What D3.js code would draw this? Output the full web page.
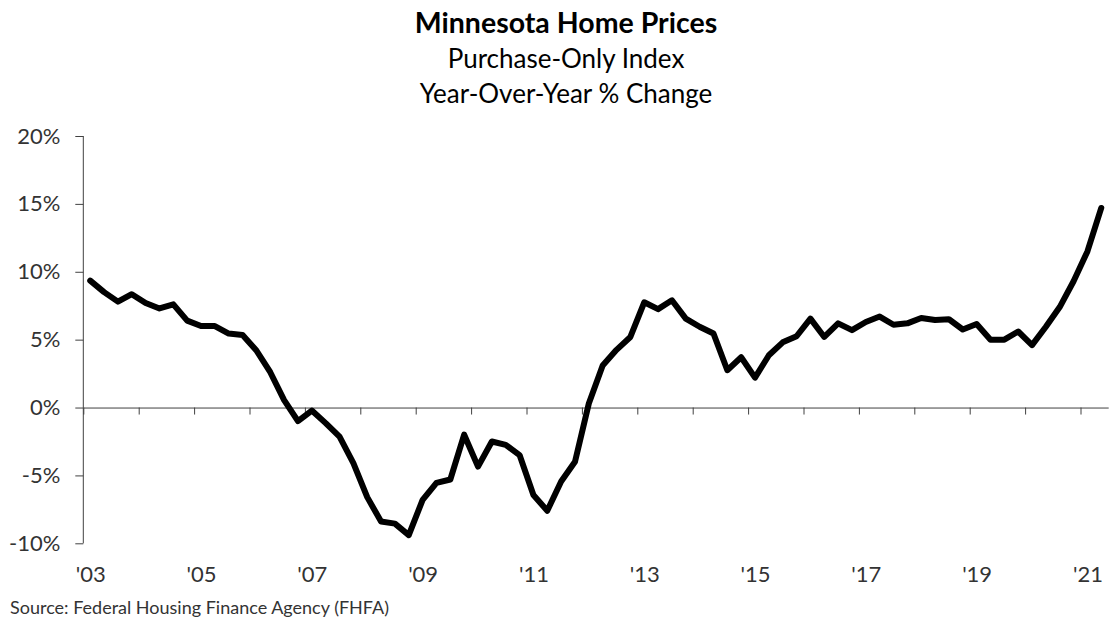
<!DOCTYPE html>
<html>
<head>
<meta charset="utf-8">
<script src="https://cdn.jsdelivr.net/npm/d3@7"></script>
<style>
  html, body { margin: 0; padding: 0; background: #fff; }
  svg { display: block; font-family: Lato, "Open Sans", sans-serif; }
</style>
</head>
<body>
<svg id="chart" width="1110" height="619"></svg>
<script>
// ---- data (quarterly, 2003Q1 .. 2021Q2) ----
const startYear = 2003;
const quarters = d3.range(74).map(i => `${startYear + Math.floor(i / 4)}Q${(i % 4) + 1}`);
const yoyChange = [
  9.35, 8.5, 7.8, 8.35, 7.7, 7.3, 7.6, 6.4, 6.0, 6.0,
  5.45, 5.35, 4.2, 2.6, 0.55, -1.0, -0.22, -1.15, -2.15, -4.1,
  -6.6, -8.4, -8.55, -9.4, -6.8, -5.55, -5.3, -2.0, -4.35, -2.5,
  -2.75, -3.5, -6.45, -7.6, -5.45, -4.0, 0.3, 3.1, 4.25, 5.2,
  7.75, 7.25, 7.9, 6.55, 5.95, 5.45, 2.75, 3.7, 2.2, 3.85,
  4.8, 5.25, 6.55, 5.2, 6.2, 5.7, 6.3, 6.7, 6.1, 6.2,
  6.6, 6.45, 6.5, 5.75, 6.15, 5.0, 5.0, 5.6, 4.6, 5.95,
  7.4, 9.3, 11.5, 14.7
];
const yTicks = [-10, -5, 0, 5, 10, 15, 20];
const xLabels = ["'03", "'05", "'07", "'09", "'11", "'13", "'15", "'17", "'19", "'21"];
const titleLines = ["Minnesota Home Prices", "Purchase-Only Index", "Year-Over-Year % Change"];
const sourceText = "Source: Federal Housing Finance Agency (FHFA)";

// ---- layout ----
const svg = d3.select("#chart");
const pLeft = 83.3, pRight = 1108.2, pTop = 136, pBottom = 543.3;

const x = d3.scaleLinear().domain([0, quarters.length]).range([pLeft, pRight]);
const y = d3.scaleLinear().domain([-10, 20]).range([pBottom, pTop]);

const axisColor = "#404040";
const textColor = "#333333";

// title
const title = svg.append("g").attr("text-anchor", "middle");
title.append("text").attr("x", 566).attr("y", 33).attr("font-size", 28.5).attr("font-weight", "bold")
  .attr("fill", "#000").text(titleLines[0]);
title.append("text").attr("x", 566).attr("y", 68).attr("font-size", 26).attr("fill", "#000").text(titleLines[1]);
title.append("text").attr("x", 566).attr("y", 103).attr("font-size", 26).attr("fill", "#000").text(titleLines[2]);

// y axis
const yAxis = svg.append("g")
  .attr("transform", `translate(${pLeft},0)`)
  .call(d3.axisLeft(y).tickValues(yTicks).tickFormat(d => d + "%").tickSize(8).tickPadding(15).tickSizeOuter(0));
yAxis.selectAll("path, line").attr("stroke", axisColor);
yAxis.selectAll("text").attr("font-size", 22).attr("fill", textColor).attr("font-family", "Lato, sans-serif");
yAxis.select(".domain").attr("d", `M0,${pTop}V${pBottom}`);

// x axis at 0% (tick marks at year boundaries)
const yearStarts = d3.range(0, quarters.length + 1, 4);
const xAxis = svg.append("g")
  .attr("transform", `translate(0,${y(0)})`)
  .call(d3.axisBottom(x).tickValues(yearStarts).tickFormat("").tickSize(7).tickSizeOuter(0));
xAxis.selectAll("path, line").attr("stroke", axisColor);

// x labels (every other year, centered on Q1 of that year)
const labelIdx = xLabels.map((_, k) => k * 8 + 0.5);
const xLab = svg.append("g")
  .attr("transform", `translate(0,${pBottom})`)
  .call(d3.axisBottom(x).tickValues(labelIdx).tickFormat((d, k) => xLabels[k]).tickSize(0).tickPadding(23));
xLab.select(".domain").remove();
xLab.selectAll("text").attr("font-size", 22).attr("fill", textColor).attr("font-family", "Lato, sans-serif");

// line
const line = d3.line().x((d, i) => x(i + 0.5)).y(d => y(d));
svg.append("path").datum(yoyChange)
  .attr("d", line)
  .attr("fill", "none")
  .attr("stroke", "#000")
  .attr("stroke-width", 6)
  .attr("stroke-linejoin", "round")
  .attr("stroke-linecap", "round");

// source
svg.append("text").attr("x", 10).attr("y", 614).attr("font-size", 18).attr("fill", textColor).text(sourceText);
</script>
</body>
</html>
